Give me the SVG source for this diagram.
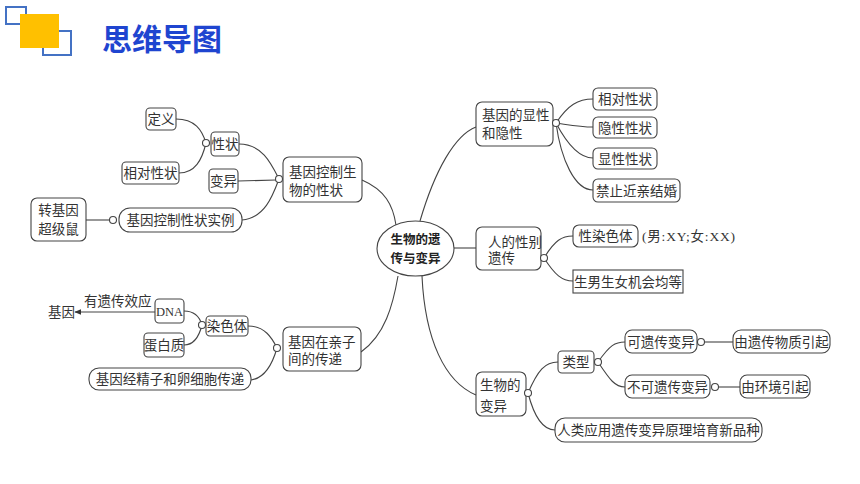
<svg xmlns="http://www.w3.org/2000/svg" width="860" height="484" viewBox="0 0 860 484">
<style>
.b{fill:#fff;stroke:#444;stroke-width:1.1}
.c{fill:#fff;stroke:#444;stroke-width:1.1}
.l{fill:none;stroke:#444;stroke-width:1.1}
text{font-family:"Liberation Serif","Noto Sans CJK SC",serif;font-size:13.5px;fill:#333}
.m{text-anchor:middle}
.ctr{font-family:"Noto Sans CJK SC","Liberation Sans",sans-serif;font-weight:bold;font-size:12.5px;fill:#222;text-anchor:middle}
.title{font-family:"Noto Sans CJK SC","Liberation Sans",sans-serif;font-weight:bold;font-size:30px;fill:#1f45d0}
</style>
<defs>
<marker id="ah" viewBox="0 0 10 10" refX="9" refY="5" markerWidth="7" markerHeight="7" orient="auto" markerUnits="userSpaceOnUse">
<path d="M0,1 L10,5 L0,9 Z" fill="#333"/>
</marker>
</defs>
<rect width="860" height="484" fill="#fff"/>
<g id="header">
<rect x="6" y="7" width="20" height="17" fill="none" stroke="#4472c4" stroke-width="2"/>
<rect x="43" y="31" width="28" height="24" fill="none" stroke="#4472c4" stroke-width="2"/>
<rect x="20" y="14" width="39" height="34" fill="#ffc000"/>
<text class="title" x="102" y="50">思维导图</text>
</g>
<g id="connectors">
<path class="l" d="M362,180 C385,190 393,205 396,225"/>
<path class="l" d="M361,352 C385,335 393,305 398,276"/>
<path class="l" d="M420,221 C435,170 455,135 476,127"/>
<path class="l" d="M454,248 L476,248"/>
<path class="l" d="M422,276 C425,340 445,382 476,395"/>
<path class="l" d="M176,119 C195,119 202,130 206,143"/>
<path class="l" d="M179,173 C195,173 202,160 206,143"/>
<path class="l" d="M239,144 C262,144 271,163 279,179"/>
<path class="l" d="M238,181 L276,180"/>
<path class="l" d="M242,220 C265,218 273,195 279,179"/>
<path class="l" d="M86,220 L110,220"/>
<path class="l" d="M184,311 C196,311 200,318 202,325"/>
<path class="l" d="M184,345 C196,345 200,333 202,325"/>
<path class="l" d="M248,326 C265,326 272,338 277,348"/>
<path class="l" d="M251,380 C266,378 273,362 277,348"/>
<path class="l" d="M155,312 L75,312" marker-end="url(#ah)"/>
<path class="l" d="M556,123 C568,105 578,99 593,99"/>
<path class="l" d="M556,123 C570,125 580,127 593,127"/>
<path class="l" d="M556,123 C566,142 578,158 593,158"/>
<path class="l" d="M556,123 C561,160 575,190 593,190"/>
<path class="l" d="M544,258 C555,240 562,236 573,236"/>
<path class="l" d="M544,258 C555,275 562,281 573,281"/>
<path class="l" d="M528,393 C538,370 545,362 558,362"/>
<path class="l" d="M528,393 C535,420 545,430 555,430"/>
<path class="l" d="M598,362 C610,345 615,342 625,342"/>
<path class="l" d="M598,362 C610,380 615,387 625,387"/>
<path class="l" d="M704,342 L733,342"/>
<path class="l" d="M718,387 L740,387"/>
</g>
<g id="center">
<ellipse class="b" cx="415.5" cy="248.5" rx="38.5" ry="27.5"/>
<text class="ctr" x="415.5" y="244">生物的遗</text>
<text class="ctr" x="415.5" y="263">传与变异</text>
</g>
<g id="n-gene-control">
<rect class="b" x="283" y="157" width="79" height="45" rx="6"/>
<text x="289" y="177">基因控制生</text>
<text x="289" y="195">物的性状</text>
<circle class="c" cx="279" cy="179" r="3.5"/>
</g>
<g id="n-xingzhuang">
<rect class="b" x="211" y="132" width="28" height="24" rx="4"/>
<text class="m" x="225" y="149">性状</text>
<circle class="c" cx="206" cy="143" r="3.5"/>
</g>
<g id="n-dingyi">
<rect class="b" x="146" y="108" width="30" height="22" rx="4"/>
<text class="m" x="161" y="124">定义</text>
</g>
<g id="n-xiangdui1">
<rect class="b" x="122" y="162" width="57" height="22" rx="4"/>
<text class="m" x="150.5" y="178">相对性状</text>
</g>
<g id="n-bianyi">
<rect class="b" x="209" y="169" width="29" height="24" rx="4"/>
<text class="m" x="223.5" y="186">变异</text>
</g>
<g id="n-shili">
<rect class="b" x="119" y="208" width="123" height="24" rx="11"/>
<text class="m" x="180.5" y="225">基因控制性状实例</text>
<circle class="c" cx="113" cy="220" r="3.5"/>
</g>
<g id="n-mouse">
<rect class="b" x="31" y="198" width="55" height="43" rx="6"/>
<text class="m" x="58.5" y="215">转基因</text>
<text class="m" x="58.5" y="234">超级鼠</text>
</g>
<g id="n-transmit">
<rect class="b" x="283" y="327" width="78" height="44" rx="6"/>
<text x="288" y="347">基因在亲子</text>
<text x="288" y="364">间的传递</text>
<circle class="c" cx="277" cy="348" r="3.5"/>
</g>
<g id="n-chromosome">
<rect class="b" x="206" y="316" width="42" height="20" rx="4"/>
<text class="m" x="227" y="331">染色体</text>
<circle class="c" cx="202" cy="325" r="3.5"/>
</g>
<g id="n-dna">
<rect class="b" x="155" y="299" width="29" height="24" rx="4"/>
<text class="m" x="169.5" y="316" style="font-size:12.5px">DNA</text>
</g>
<g id="n-gene">
<text x="48" y="317">基因</text>
<text x="84" y="306">有遗传效应</text>
</g>
<g id="n-protein">
<rect class="b" x="144" y="333" width="40" height="24" rx="4"/>
<text class="m" x="164" y="350">蛋白质</text>
</g>
<g id="n-sperm">
<rect class="b" x="89" y="368" width="162" height="22" rx="10"/>
<text class="m" x="170" y="384">基因经精子和卵细胞传递</text>
</g>
<g id="n-dominance">
<rect class="b" x="476" y="102" width="77" height="44" rx="6"/>
<text x="482" y="120">基因的显性</text>
<text x="482" y="138">和隐性</text>
<circle class="c" cx="556" cy="123" r="3.5"/>
</g>
<g id="n-xiangdui2">
<rect class="b" x="593" y="88" width="64" height="22" rx="5"/>
<text class="m" x="625" y="104">相对性状</text>
</g>
<g id="n-recessive">
<rect class="b" x="593" y="117" width="64" height="21" rx="5"/>
<text class="m" x="625" y="132.5">隐性性状</text>
</g>
<g id="n-dominant">
<rect class="b" x="593" y="148" width="64" height="21" rx="5"/>
<text class="m" x="625" y="163.5">显性性状</text>
</g>
<g id="n-marriage">
<rect class="b" x="593" y="179" width="87" height="23" rx="5"/>
<text class="m" x="636.5" y="195.5">禁止近亲结婚</text>
</g>
<g id="n-sex">
<rect class="b" x="476" y="227" width="65" height="43" rx="6"/>
<text x="488" y="247">人的性别</text>
<text x="488" y="263">遗传</text>
<circle class="c" cx="544" cy="258" r="3.5"/>
</g>
<g id="n-sexchrom">
<rect class="b" x="573" y="225" width="65" height="22" rx="6"/>
<text class="m" x="605.5" y="241">性染色体</text>
<text x="642" y="241" style="letter-spacing:0.8px">(男:XY;女:XX)</text>
</g>
<g id="n-equal">
<rect class="b" x="573" y="270" width="110" height="23" rx="0"/>
<text class="m" x="628" y="286.5">生男生女机会均等</text>
</g>
<g id="n-variation">
<rect class="b" x="476" y="372" width="50" height="44" rx="6"/>
<text x="480" y="390">生物的</text>
<text x="480" y="411">变异</text>
<circle class="c" cx="528" cy="393" r="3.5"/>
</g>
<g id="n-type">
<rect class="b" x="558" y="351" width="36" height="22" rx="4"/>
<text class="m" x="576" y="367">类型</text>
<circle class="c" cx="598" cy="362" r="3.5"/>
</g>
<g id="n-heritable">
<rect class="b" x="625" y="330" width="72" height="23" rx="7"/>
<text class="m" x="661" y="346.5">可遗传变异</text>
<circle class="c" cx="701" cy="342" r="3.5"/>
</g>
<g id="n-genetic">
<rect class="b" x="733" y="330" width="97" height="23" rx="8"/>
<text class="m" x="781.5" y="346.5">由遗传物质引起</text>
</g>
<g id="n-nonheritable">
<rect class="b" x="625" y="375" width="85" height="23" rx="7"/>
<text class="m" x="667.5" y="391.5">不可遗传变异</text>
<circle class="c" cx="715" cy="387" r="3.5"/>
</g>
<g id="n-env">
<rect class="b" x="740" y="375" width="70" height="23" rx="7"/>
<text class="m" x="775" y="391.5">由环境引起</text>
</g>
<g id="n-breeding">
<rect class="b" x="555" y="418" width="207" height="24" rx="10"/>
<text class="m" x="658.5" y="435">人类应用遗传变异原理培育新品种</text>
</g>
</svg>
